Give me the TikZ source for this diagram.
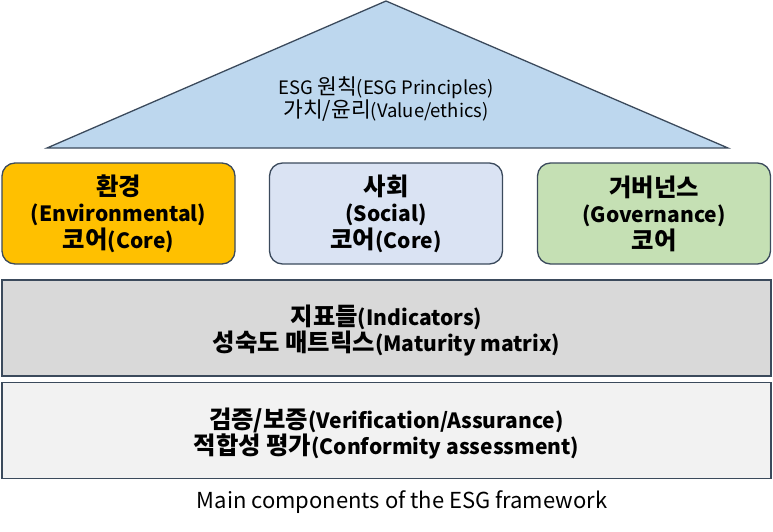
\documentclass[tikz,border=0pt]{standalone}
\usepackage{fontspec}
\setmainfont{Noto Sans CJK KR}
\newfontfamily\kr[Scale=1.16]{Noto Sans CJK KR}
\definecolor{contorno}{HTML}{3B4A5C}
\definecolor{telhado}{HTML}{BDD7EE}
\definecolor{ambiente}{HTML}{FFC000}
\definecolor{social}{HTML}{DAE3F3}
\definecolor{governo}{HTML}{C5E0B4}
\definecolor{indicador}{HTML}{D9D9D9}
\definecolor{verifica}{HTML}{F2F2F2}
\begin{document}
\begin{tikzpicture}[x=1pt,y=-1pt,
		  every node/.style={font=\fontsize{21}{26.5}\selectfont\bfseries, align=center, inner sep=0pt}
		]

		\tikzset{
		    borda/.style={draw=contorno, line width=1.3pt},
		    nucleo/.style={borda, rounded corners=13pt, minimum width=233pt, minimum height=101pt},
		    camada/.style={borda, minimum width=769pt, minimum height=96pt}
		}

		\useasboundingbox (0,0) rectangle (773,532);

		% Telhado
		\coordinate (topo) at (386,1);
		\coordinate (esq) at (47,148);
		\coordinate (dir) at (728,148);
		\draw[borda, fill=telhado] (topo) -- (dir) -- (esq) -- cycle;
		\node[font=\fontsize{18.5}{23}\selectfont] (principios) at (386,99)
		  {ESG {\kr 원칙}(ESG Principles)\\{\kr 가치/윤리}(Value/ethics)};

		% Nucleos
		\node[nucleo, fill=ambiente] (E) at (118.5,213.5) {{\kr 환경}\\(Environmental)\\{\kr 코어}(Core)};
		\node[nucleo, fill=social] (S) at (386,213.5) {{\kr 사회}\\(Social)\\{\kr 코어}(Core)};
		\node[nucleo, fill=governo] (G) at (654,213.5) {{\kr 거버넌스}\\(Governance)\\{\kr 코어}};

		% Camadas
		\node[camada, fill=indicador] (I) at (386.5,328) {};
		\node (Itexto) at (386.5,330.5) {{\kr 지표들}(Indicators)\\{\kr 성숙도 매트릭스}(Maturity matrix)};
		\node[camada, fill=verifica] (V) at (386.5,430.5) {};
		\node (Vtexto) at (386.5,433.5) {{\kr 검증/보증}(Verification/Assurance)\\{\kr 적합성 평가}(Conformity assessment)};

		% Legenda
		\node[font=\fontsize{22}{26}\selectfont] (legenda) at (402,502) {Main components of the ESG framework};

		\end{tikzpicture}
\end{document}
